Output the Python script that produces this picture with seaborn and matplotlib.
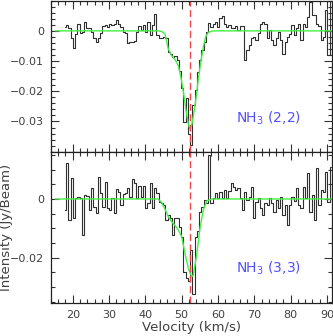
import numpy as np
import pandas as pd
import matplotlib
matplotlib.use('Agg')
import matplotlib.pyplot as plt
from matplotlib.ticker import MultipleLocator, FuncFormatter
import seaborn as sns

# channel grid of the spectra (km/s)
v_start = 17.9
chan_width = 0.62

# observed spectra, mJy/beam, one value per channel
nh3_22 = [1.3, 2.1, 0.8, -2.5, -5.8, -0.9, 2.4, -0.6, -0.3, 3.0,
          1.1, 0.8, -0.3, -2.5, -3.6, -2.2, -0.6, 1.5, 1.9, 1.3,
          2.4, 1.9, 2.2, 3.5, 2.4, 1.3, -0.3, -0.6, -4.0, -3.6,
          -3.6, -3.3, -0.3, 1.5, 0.4, 1.9, -0.3, 3.0, -1.4, 1.9,
          5.7, -1.4, -2.5, -2.5, -2.0, -2.2,
          -6.9, -7.5, -8.5, -8.2, -9.7, -13.2, -19.0, -30.1, -22.1, -34.0,
          -37.8, -24.6, -19.6, -13.6, -9.7, -6.4, -3.6, -0.3,
          2.6, 1.3, 2.4, 3.0, 1.3, 4.1, 5.0, 2.4, 1.3, 1.9,
          0.8, 1.1, 1.7, 0.4, 1.5, 1.5, -9.7, -6.4, -4.7, -2.5,
          -2.0, -3.1, -0.7, 2.4, 3.0, 2.4, -2.5, 0.2, -3.1, -4.7,
          -2.5, -0.3, -2.9, -7.5, -3.6, -2.0, -0.9, 1.9, -1.4, 0.8,
          2.2, -3.1, 2.4, 1.3, 4.6, 9.6, 5.2, 5.2, 2.4, 1.5,
          -3.1, -2.0, 6.8, -8.0, 10.5]

nh3_33 = [-3.75, 12.4, -7.2, 7.0, -6.6, 0.2, 0.8, 0.5, -12.3, 1.4,
          1.1, -3.75, 3.6, -2.6, -4.9, 7.6, 1.9, -2.6, 5.9, -3.2,
          -3.75, 0.2, -4.9, 3.4, 2.5, -2.0, 1.6, 1.9, 3.6, 0.8,
          6.8, 5.3, 0.2, 4.5, 0.8, 4.5, -3.2, -1.5, 5.3, -3.0,
          3.6, 1.9, -0.9, -1.5, -2.0, -7.2,
          -5.5, -6.6, -12.3, -6.6, -6.6, -9.4, -12.8, -24.8, -27.0, -28.0,
          -17.4, -32.2, -12.8, -11.0, -4.3, -2.6, -0.3, -1.5, 15.0, -1.5,
          0.2, 1.9, 0.2, 2.5, 0.2, 3.1, 0.2, 2.7, 5.3, 4.2,
          3.1, 3.6, 0.2, -3.75, 2.5, -0.3, 0.8, 4.2, -6.6, -0.9,
          0.2, -3.2, -5.3, -1.5, -2.0, 0.2, -1.5, -4.3, -0.3, -2.9,
          0.8, -5.5, -2.0, -8.9, -2.0, 0.8, -0.7, 3.6, -2.0, -3.2,
          4.2, 0.2, 8.8, -4.3, 1.4, -7.2, 10.5, -2.0, 3.1, 2.5,
          9.3, -0.9, 11.0]

# fitted profiles (green), mJy/beam
fit22_v = [15.2, 43.5, 44.5, 45.41, 46.32, 47.24, 48.16, 49.08, 49.81, 50.45,
           51.09, 51.83, 52.29, 52.75, 53.48, 54.12, 54.58, 55.32, 55.96, 56.60,
           57.33, 58.25, 59.5, 91.4]
fit22_i = [0, 0, -0.2, -1.0, -6.0, -8.2, -9.5, -11.5, -15.5, -20.0,
           -25.5, -30.8, -32.6, -31.3, -26.3, -20.8, -16.0, -9.8, -5.3, -2.0,
           -0.5, -0.1, 0, 0]

fit33_v = [15.2, 43.5, 44.5, 45.41, 46.32, 47.24, 48.16, 49.08, 50.0, 50.91,
           51.83, 52.75, 53.2, 54.12, 55.04, 55.96, 56.88, 58.25, 59.5, 91.4]
fit33_i = [0, 0, -1.2, -3.5, -6.0, -7.7, -9.0, -10.6, -12.8, -18.5,
           -23.6, -26.5, -25.9, -19.1, -10.0, -3.75, -0.7, 0, 0, 0]

v_lsr = 52.4

panels = [
    ('NH$_3$ (2,2)', nh3_22, fit22_v, fit22_i, (-0.040, 0.010), [0, -0.01, -0.02, -0.03], 0.002, -0.0289),
    ('NH$_3$ (3,3)', nh3_33, fit33_v, fit33_i, (-0.0353, 0.0161), [0, -0.02], 0.005, -0.0237),
]

sns.set_style('ticks')
plt.rcParams['font.family'] = ['DejaVu Sans']

fig, axs = plt.subplots(2, 1, figsize=(3.33, 3.36), dpi=100, sharex=True)
fig.subplots_adjust(left=0.153, right=0.997, top=0.998, bottom=0.099, hspace=0)

def fmt(val, pos):
    if abs(val) < 1e-12:
        return '0'
    return f'{val:g}'.replace('-', '\u2212')

for ax, (name, spec, fv, fi, ylim, yt, yminor, ty) in zip(axs, panels):
    vel = v_start + chan_width * np.arange(len(spec))
    df = pd.DataFrame({'Velocity': vel, 'Intensity': np.array(spec) / 1000.0})
    fit = pd.DataFrame({'Velocity': fv, 'Intensity': np.array(fi) / 1000.0})

    sns.lineplot(data=df, x='Velocity', y='Intensity', drawstyle='steps-mid',
                 color='#303030', lw=0.8, ax=ax)
    sns.lineplot(data=fit, x='Velocity', y='Intensity', color='#44f044', lw=1.0, ax=ax)
    ax.axvline(v_lsr, color='#f04848', lw=1.0, ls=(0, (5, 2.5)))

    ax.text(73.8, ty, name, color='#5050ff', fontsize=10, ha='center', va='center')

    ax.set_xlim(14, 91.4)
    ax.set_ylim(*ylim)
    ax.set_yticks(yt)
    ax.yaxis.set_minor_locator(MultipleLocator(yminor))
    ax.yaxis.set_major_formatter(FuncFormatter(fmt))
    ax.xaxis.set_major_locator(MultipleLocator(10))
    ax.xaxis.set_minor_locator(MultipleLocator(2))
    ax.tick_params(which='both', direction='in', top=True, right=True,
                   labelsize=8, labelcolor='#404040', color='#333333', width=0.8, pad=5)
    ax.tick_params(which='major', length=5.5)
    ax.tick_params(which='minor', length=3)
    for s in ax.spines.values():
        s.set_color('#222222')
        s.set_linewidth(0.9)
    ax.set_xlabel('')
    ax.set_ylabel('')

axs[1].set_xlabel('Velocity (km/s)', fontsize=9.5, color='#404040', labelpad=1)
axs[1].set_ylabel('Intensity (Jy/Beam)', fontsize=9.5, color='#404040')
axs[1].yaxis.set_label_coords(-0.135, 0.5)

fig.savefig('out.png', dpi=100)
